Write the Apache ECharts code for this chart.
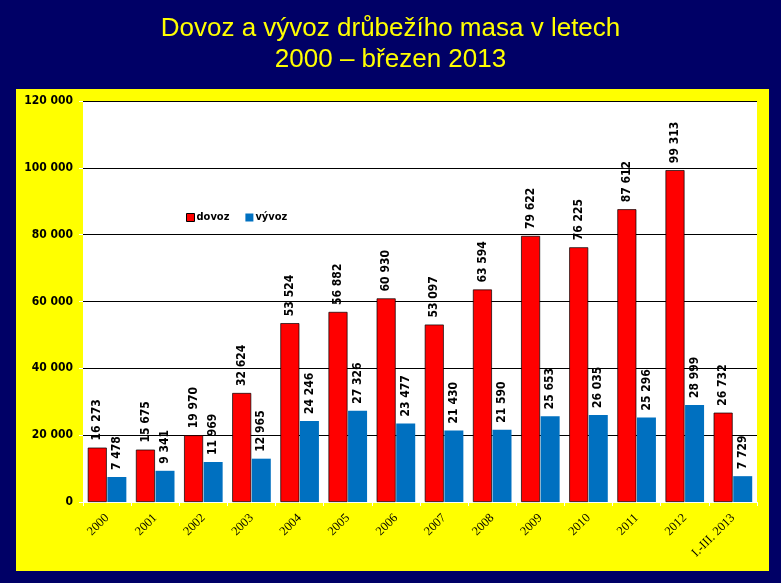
<!DOCTYPE html>
<html><head><meta charset="utf-8">
<script src="https://cdn.jsdelivr.net/npm/echarts@6/dist/echarts.min.js"></script>
<style>html,body{margin:0;padding:0;background:#000066;}#c{width:781px;height:583px;}</style>
</head><body><div id="c"></div>
<script>
const categories = ['2000','2001','2002','2003','2004','2005','2006','2007','2008','2009','2010','2011','2012','I.-III. 2013'];
const dovoz = [16273,15675,19970,32624,53524,56882,60930,53097,63594,79622,76225,87612,99313,26732];
const vyvoz = [7478,9341,11969,12965,24246,27326,23477,21430,21590,25653,26035,25296,28999,7729];
const fmt = v => String(v).replace(/\B(?=(\d{3})+(?!\d))/g, ' ');
const chart = echarts.init(document.getElementById('c'));
const FONT = '"DejaVu Sans Condensed", "DejaVu Sans", sans-serif';
const lbl = {
  show: true, position: 'top', rotate: 90, align: 'left', verticalAlign: 'middle', distance: 7,
  color: '#000', fontFamily: FONT, fontWeight: 'bold', fontSize: 12,
  formatter: p => fmt(p.value)
};
chart.setOption({
  backgroundColor: '#000066',
  animation: false,
  graphic: [{type: 'rect', shape: {x: 16, y: 89, width: 753, height: 482}, style: {fill: '#FFFF00'}, z: -10}],
  title: {
    text: 'Dovoz a vývoz drůbežího masa v letech\n2000 – březen 2013',
    left: 'center', top: 8,
    textStyle: {color: '#FFFF00', fontFamily: 'Liberation Sans', fontWeight: 'normal', fontSize: 26, lineHeight: 31}
  },
  legend: {
    left: 181, top: 207, itemWidth: 8, itemHeight: 8, itemGap: 16, icon: 'rect',
    textStyle: {color: '#000', fontFamily: FONT, fontWeight: 'bold', fontSize: 11, padding: [0,0,0,-3]},
    data: [{name: 'dovoz', itemStyle: {borderColor: '#000', borderWidth: 1}}, {name: 'vývoz'}]
  },
  grid: {left: 83, right: 24, top: 101, bottom: 81, show: true, backgroundColor: '#fff', borderWidth: 0},
  xAxis: {
    type: 'category', data: categories,
    axisLine: {lineStyle: {color: '#fff', width: 1}},
    axisTick: {show: true, length: 4, lineStyle: {color: '#fff'}},
    axisLabel: {rotate: 45, color: '#000', fontFamily: 'Liberation Serif', fontSize: 12.5, margin: 14, interval: 0}
  },
  yAxis: {
    type: 'value', min: 0, max: 120000, interval: 20000,
    axisLine: {show: false},
    axisTick: {show: true, length: 4, lineStyle: {color: '#fff'}},
    splitLine: {lineStyle: {color: '#000', width: 1}},
    axisLabel: {color: '#000', fontFamily: FONT, fontWeight: 'bold', fontSize: 12, margin: 10, formatter: v => fmt(v)}
  },
  series: [
    {name: 'dovoz', type: 'bar', data: dovoz, barWidth: 19, barGap: '3%',
     itemStyle: {color: '#FF0000', borderColor: '#000', borderWidth: 0.7}, label: lbl},
    {name: 'vývoz', type: 'bar', data: vyvoz, barWidth: 19,
     itemStyle: {color: '#0070C0'}, label: lbl}
  ]
});
</script></body></html>
